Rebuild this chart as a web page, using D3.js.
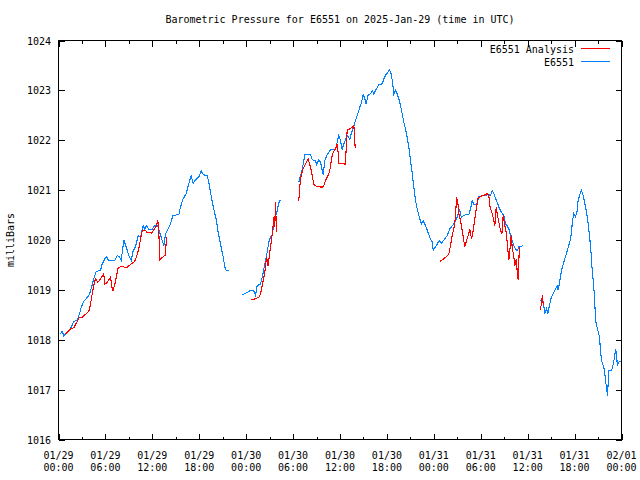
<!DOCTYPE html>
<html><head><meta charset="utf-8">
<script src="https://cdn.jsdelivr.net/npm/d3@7"></script>
<style>
body{margin:0;background:#fff;}
text{font-family:"DejaVu Sans Mono",monospace;font-size:10px;fill:#000;}
</style></head>
<body><svg id="c" width="640" height="480"></svg>
<script>
const title = "Barometric Pressure for E6551 on 2025-Jan-29 (time in UTC)";
const yLabel = "milliBars";
const seriesNames = ["E6551 Analysis", "E6551"];
const yTicks = [1016,1017,1018,1019,1020,1021,1022,1023,1024];
const xTickHours = [0,6,12,18,24,30,36,42,48,54,60,66,72];
const startUTC = Date.UTC(2025,0,29,0,0);

// hours since 2025-01-29 00:00 UTC, null = gap
const blueT = [0.26,0.47,0.68,1.11,1.53,1.96,2.39,2.69,2.90,3.24,3.67,3.96,4.22,4.51,4.82,5.37,5.59,6.10,6.43,7.20,7.51,7.80,8.02,8.35,8.66,8.99,9.30,9.50,9.85,10.19,10.49,10.70,10.83,11.04,11.25,11.55,11.98,12.28,12.66,12.92,13.26,13.47,13.68,13.98,14.32,14.62,15.39,15.60,15.90,16.33,16.66,16.97,17.23,17.52,17.94,18.25,18.51,19.02,19.22,19.44,19.66,19.95,20.21,20.37,20.63,20.85,21.06,21.27,21.45,21.78,
 22.5,
 23.40,23.92,24.55,24.98,25.19,25.41,25.83,26.05,26.26,26.47,26.69,26.90,27.11,27.33,27.53,27.75,27.97,28.17,28.39,
 29.5,
 30.73,30.95,31.17,31.37,31.50,32.23,32.45,32.87,33.00,33.29,33.51,33.73,33.85,34.06,34.36,34.79,35.43,35.64,35.85,36.06,36.28,36.49,36.70,36.92,37.13,37.25,37.43,37.77,37.98,38.28,38.53,38.75,38.97,39.13,39.35,39.56,39.90,40.12,40.32,40.54,40.76,40.96,41.40,41.60,41.82,42.11,42.33,42.55,42.75,42.88,43.10,43.32,43.52,43.74,43.95,44.16,44.38,44.59,44.80,45.02,45.24,45.44,45.66,45.88,46.08,46.39,46.64,46.94,47.23,47.57,47.79,47.92,48.21,48.51,48.73,48.94,49.28,49.71,50.04,50.55,50.99,51.28,51.50,51.83,52.14,52.47,52.69,52.91,53.11,53.46,53.75,54.19,54.48,55.03,55.25,55.46,55.67,55.89,56.10,56.31,56.53,56.75,56.95,57.17,57.38,57.59,57.81,58.02,58.23,58.45,58.67,58.87,59.08,59.43,
 60.5,
 61.64,61.94,62.07,62.19,62.41,62.58,62.79,63.01,63.27,63.56,63.78,63.91,64.11,64.33,64.55,64.84,65.13,65.39,65.57,65.74,65.90,66.12,66.34,66.41,66.63,66.85,67.05,67.27,67.53,67.74,67.95,68.13,68.25,68.46,68.59,68.68,68.81,68.97,69.19,69.32,69.45,69.66,69.83,69.96,70.08,70.21,70.38,70.73,70.89,71.12,71.24,71.37,71.46,71.67,71.89];
const blueV = [1018.12,1018.17,1018.08,1018.15,1018.22,1018.37,1018.39,1018.52,1018.65,1018.77,1018.85,1018.91,1019.05,1019.22,1019.37,1019.39,1019.52,1019.67,1019.59,1019.59,1019.69,1019.66,1019.59,1020.00,1019.86,1019.69,1019.59,1019.76,1019.87,1020.09,1020.05,1020.22,1020.29,1020.21,1020.29,1020.21,1020.22,1020.29,1020.29,1020.16,1019.99,1019.89,1020.12,1020.21,1020.32,1020.49,1020.51,1020.66,1020.81,1020.93,1021.13,1021.29,1021.13,1021.21,1021.26,1021.39,1021.31,1021.29,1021.16,1020.96,1020.76,1020.56,1020.39,1020.19,1019.99,1019.82,1019.66,1019.46,1019.39,1019.39,
 null,
 1018.89,1018.93,1018.99,1018.98,1018.89,1019.09,1019.11,1019.25,1019.42,1019.59,1019.76,1019.96,1020.06,1020.10,1020.29,1020.46,1020.59,1020.74,1020.81,
 null,
 1021.16,1021.29,1021.42,1021.59,1021.71,1021.71,1021.61,1021.59,1021.51,1021.61,1021.56,1021.39,1021.31,1021.59,1021.71,1021.81,1021.81,1021.96,1022.10,1022.00,1021.81,1021.93,1022.00,1022.10,1022.05,1022.01,1022.13,1022.28,1022.40,1022.53,1022.66,1022.76,1022.91,1022.86,1022.72,1022.90,1022.93,1023.00,1022.93,1023.00,1023.05,1023.12,1023.13,1023.23,1023.30,1023.36,1023.41,1023.33,1023.13,1022.93,1023.00,1022.93,1022.83,1022.70,1022.53,1022.36,1022.23,1022.06,1021.86,1021.59,1021.33,1021.06,1020.79,1020.62,1020.49,1020.32,1020.39,1020.29,1020.16,1020.02,1019.96,1019.79,1019.86,1019.94,1019.99,1019.93,1020.00,1020.09,1020.22,1020.32,1020.46,1020.62,1020.46,1020.49,1020.51,1020.51,1020.62,1020.79,1020.72,1020.71,1020.87,1020.89,1020.89,1020.91,1020.89,1020.99,1020.93,1020.83,1020.76,1020.66,1020.59,1020.53,1020.49,1020.32,1020.29,1020.22,1020.09,1019.99,1019.89,1019.82,1019.79,1019.86,1019.87,1019.89,
 null,
 1018.79,1018.79,1018.67,1018.52,1018.62,1018.52,1018.69,1018.85,1018.92,1019.02,1019.07,1018.99,1019.19,1019.39,1019.52,1019.67,1019.82,1019.96,1020.12,1020.39,1020.53,1020.46,1020.59,1020.76,1020.89,1021.00,1020.92,1020.76,1020.56,1020.32,1020.02,1019.69,1019.40,1019.05,1018.72,1018.39,1018.29,1018.19,1018.05,1017.78,1017.58,1017.48,1017.38,1017.18,1017.05,1016.88,1017.38,1017.38,1017.48,1017.65,1017.82,1017.72,1017.48,1017.55,1017.58];

const redT = [0.81,1.11,1.53,1.96,2.26,2.69,3.03,3.45,3.88,4.09,4.31,4.51,4.73,5.03,5.37,5.79,5.92,6.23,6.65,6.87,6.94,7.20,7.38,7.64,8.15,8.66,9.21,9.72,9.98,10.27,10.49,10.70,11.13,11.34,11.89,12.28,12.53,12.70,12.83,12.96,13.26,13.68,13.81,
 19.0,
 24.68,25.11,25.62,25.83,26.05,26.26,26.47,26.60,26.82,26.98,27.24,27.46,27.59,27.66,27.75,27.88,
 29.0,
 30.73,30.82,30.95,31.24,31.59,31.93,32.23,32.45,32.65,33.09,33.73,33.93,34.15,34.36,34.57,34.79,34.91,35.13,35.43,35.64,35.77,35.85,36.49,36.70,36.83,36.92,37.25,37.56,37.77,37.86,37.94,
 43.0,
 48.76,49.28,49.92,50.13,50.35,50.55,50.77,50.90,51.07,51.20,51.41,51.63,51.83,51.96,52.18,52.40,52.60,52.82,53.04,53.24,53.46,53.68,53.89,54.19,54.63,54.83,55.03,55.16,55.34,55.46,55.67,55.80,55.98,56.10,56.31,56.53,56.70,56.87,57.04,57.25,57.38,57.59,57.72,57.90,58.02,58.23,58.36,58.54,58.67,58.80,58.93,
 60.0,
 61.64,61.77,61.90,61.99];
const redV = [1018.11,1018.15,1018.22,1018.24,1018.33,1018.45,1018.45,1018.51,1018.57,1018.71,1018.92,1019.09,1019.22,1019.15,1019.22,1019.32,1019.11,1019.15,1019.25,1019.02,1018.97,1019.11,1019.25,1019.45,1019.47,1019.44,1019.51,1019.57,1019.66,1019.82,1020.02,1020.18,1020.19,1020.15,1020.14,1020.22,1020.29,1020.39,1020.15,1019.60,1019.65,1019.70,1020.07,
 null,
 1018.80,1018.82,1018.85,1018.92,1019.09,1019.25,1019.45,1019.66,1019.47,1019.72,1019.99,1020.32,1020.49,1020.26,1020.76,1020.16,
 null,
 1020.79,1020.99,1021.23,1021.41,1021.53,1021.63,1021.46,1021.29,1021.11,1021.07,1021.06,1021.09,1021.19,1021.26,1021.33,1021.46,1021.63,1021.76,1021.83,1021.93,1021.73,1021.54,1021.53,1021.51,1021.99,1022.20,1022.23,1022.26,1022.30,1022.07,1021.85,
 null,
 1019.57,1019.62,1019.72,1019.89,1020.09,1020.22,1020.46,1020.86,1020.76,1020.53,1020.39,1020.19,1019.99,1019.86,1019.99,1020.09,1020.22,1020.02,1020.19,1020.42,1020.66,1020.86,1020.86,1020.89,1020.91,1020.93,1020.89,1020.69,1020.59,1020.53,1020.39,1020.29,1020.66,1020.53,1020.36,1020.19,1020.12,1020.49,1020.32,1020.16,1019.96,1019.59,1019.79,1020.09,1019.86,1019.66,1019.49,1019.62,1019.35,1019.19,1019.86,
 null,
 1018.59,1018.76,1018.89,1018.69];

const colors = {analysis:"#ff0000", obs:"#0080ff"};

const svg = d3.select("#c");
const L=58.5, R=621.5, T=40.5, B=439.5;
const x = d3.scaleUtc().domain([new Date(startUTC), new Date(startUTC+72*3600e3)]).range([L,R]);
const y = d3.scaleLinear().domain([1016,1024]).range([B,T]);
const toDate = h => new Date(startUTC + h*3600e3);

// ticks
const g = svg.append("g");
const minorHours = d3.range(3,72,6);
const tickLine = (x1,y1,x2,y2)=>g.append("line").attr("x1",x1).attr("y1",y1).attr("x2",x2).attr("y2",y2).attr("stroke","#000").attr("stroke-width",1).attr("shape-rendering","crispEdges");
xTickHours.forEach(h=>{const xx=Math.round(x(toDate(h)))+0.5; tickLine(xx,B,xx,B-6); tickLine(xx,T,xx,T+6);});
minorHours.forEach(h=>{const xx=Math.round(x(toDate(h)))+0.5; tickLine(xx,B,xx,B-3); tickLine(xx,T,xx,T+3);});
yTicks.forEach(v=>{const yy=Math.round(y(v))+0.5; tickLine(L,yy,L+6,yy); tickLine(R,yy,R-6,yy);});

// x tick labels
const fmtD=d3.utcFormat("%m/%d"), fmtT=d3.utcFormat("%H:%M");
xTickHours.forEach(h=>{
  const d=toDate(h), xx=x(d);
  const t=svg.append("text").attr("text-anchor","middle").attr("x",xx);
  t.append("tspan").attr("x",xx).attr("y",459).text(fmtD(d));
  t.append("tspan").attr("x",xx).attr("y",471).text(fmtT(d));
});
yTicks.forEach(v=>{
  svg.append("text").attr("text-anchor","end").attr("x",51).attr("y",y(v)+4).text(v);
});

// lines
const line = d3.line().defined((d)=>d[1]!=null).x(d=>x(toDate(d[0]))).y(d=>y(d[1]));
const blue = blueT.map((t,i)=>[t,blueV[i]]);
const red = redT.map((t,i)=>[t,redV[i]]);
svg.append("clipPath").attr("id","pc").append("rect").attr("x",L).attr("y",T).attr("width",R-L).attr("height",B-T);
svg.append("path").datum(blue).attr("d",line).attr("fill","none").attr("stroke",colors.obs).attr("stroke-width",1.1).attr("shape-rendering","crispEdges").attr("clip-path","url(#pc)");
svg.append("path").datum(red).attr("d",line).attr("fill","none").attr("stroke",colors.analysis).attr("stroke-width",1.1).attr("shape-rendering","crispEdges").attr("clip-path","url(#pc)");

// frame
svg.append("rect").attr("x",L).attr("y",T).attr("width",R-L).attr("height",B-T).attr("fill","none").attr("stroke","#000").attr("stroke-width",1).attr("shape-rendering","crispEdges");

// title, y label
svg.append("text").attr("x",340).attr("y",23).attr("text-anchor","middle").text(title);
svg.append("text").attr("transform","translate(14,240) rotate(-90)").attr("text-anchor","middle").text(yLabel);

// legend
[[seriesNames[0],colors.analysis,53],[seriesNames[1],colors.obs,66]].forEach(([n,c,yy])=>{
  svg.append("text").attr("x",574).attr("y",yy).attr("text-anchor","end").text(n);
  svg.append("line").attr("x1",581).attr("x2",610).attr("y1",yy-4.5).attr("y2",yy-4.5).attr("stroke",c).attr("stroke-width",1).attr("shape-rendering","crispEdges");
});
</script></body></html>
